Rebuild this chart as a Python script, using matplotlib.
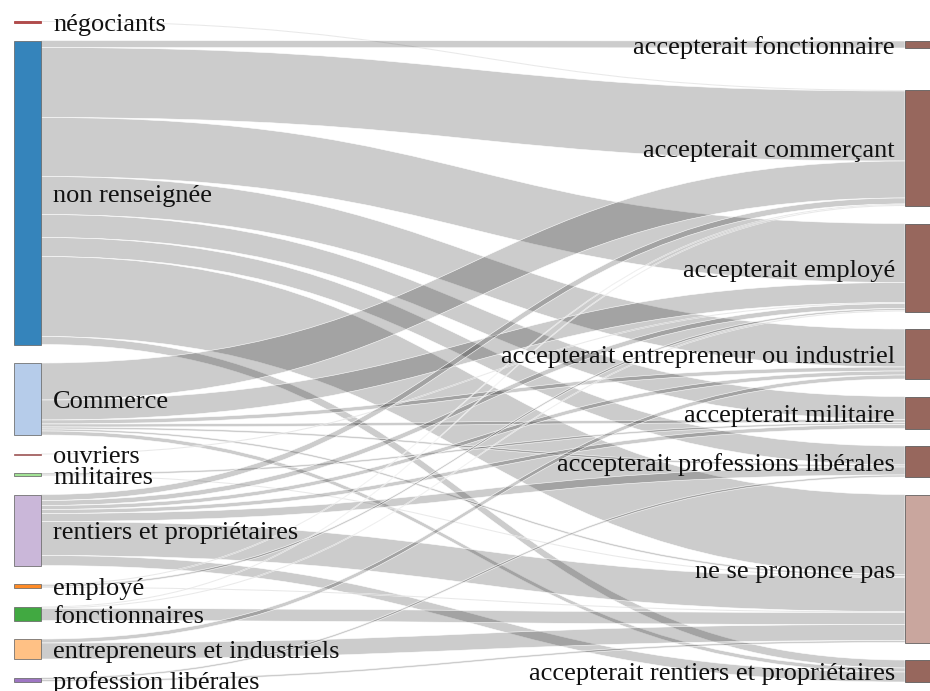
import matplotlib
matplotlib.use("Agg")
import matplotlib.pyplot as plt
from matplotlib.path import Path
from matplotlib.patches import PathPatch, Rectangle

SOURCES = ["négociants", "non renseignée", "Commerce", "ouvriers", "militaires",
           "rentiers et propriétaires", "employé", "fonctionnaires",
           "entrepreneurs et industriels", "profession libérales"]
TARGETS = ["accepterait fonctionnaire", "accepterait commerçant",
           "accepterait employé", "accepterait entrepreneur ou industriel",
           "accepterait militaire", "accepterait professions libérales",
           "ne se prononce pas", "accepterait rentiers et propriétaires"]

SRC_COLORS = ["#a83838", "#1f77b4", "#aec7e8", "#a05a5a", "#98df8a",
              "#c5b0d5", "#ff7f0e", "#2ca02c", "#ffbb78", "#9467bd"]
TGT_COLORS = ["#8c564b", "#8c564b", "#8c564b", "#8c564b",
              "#8c564b", "#8c564b", "#c49c94", "#8c564b"]

# flows: one row per source, one column per target
FLOWS = [
    [0, 1, 0, 0, 0, 0, 0, 0],
    [7, 70, 59, 38, 23, 19, 80, 8],
    [0, 37, 20, 4, 3, 2, 2, 4],
    [0, 0, 1, 0, 0, 0, 0, 0],
    [0, 0, 0, 0, 2, 0, 1, 0],
    [0, 6, 5, 4, 4, 8, 34, 10],
    [0, 1, 2, 0, 0, 0, 1, 0],
    [0, 1, 1, 0, 0, 0, 12, 0],
    [0, 0, 0, 4, 0, 0, 16, 0],
    [0, 0, 0, 0, 0, 2, 2, 0],
]

W, H = 930, 691
XL0, XL1 = 14, 41        # left node column
XR0, XR1 = 905, 932      # right node column
GAP_L, GAP_R = 18.5, 17.5
FS = 19

src_tot = [sum(r) for r in FLOWS]
tgt_tot = [sum(r[j] for r in FLOWS) for j in range(len(TARGETS))]

# stack left nodes from the top
src_top = []
y = 21
for v in src_tot:
    src_top.append(y)
    y += v + GAP_L

# stack right nodes from the bottom, first node pushed to the top
tgt_top = [0] * len(TARGETS)
y = 682
for j in range(len(TARGETS) - 1, 0, -1):
    y -= tgt_tot[j]
    tgt_top[j] = y
    y -= GAP_R
tgt_top[0] = 41

fig = plt.figure(figsize=(W / 100, H / 100), dpi=100)
ax = fig.add_axes([0, 0, 1, 1])
ax.set_xlim(0, W)
ax.set_ylim(H, 0)
ax.axis("off")

# links: ordered by target at the source, by source at the target
s_off = list(src_top)
t_off = list(tgt_top)
link_pos = {}
for i in range(len(SOURCES)):
    for j in range(len(TARGETS)):
        v = FLOWS[i][j]
        if v:
            link_pos[(i, j)] = [s_off[i], None]
            s_off[i] += v
for j in range(len(TARGETS)):
    for i in range(len(SOURCES)):
        v = FLOWS[i][j]
        if v:
            link_pos[(i, j)][1] = t_off[j]
            t_off[j] += v

xm = (XL1 + XR0) / 2
for (i, j), (sy, ty) in link_pos.items():
    v = FLOWS[i][j]
    verts = [(XL1, sy), (xm, sy), (xm, ty), (XR0, ty),
             (XR0, ty + v), (xm, ty + v), (xm, sy + v), (XL1, sy + v), (XL1, sy)]
    codes = [Path.MOVETO, Path.CURVE4, Path.CURVE4, Path.CURVE4,
             Path.LINETO, Path.CURVE4, Path.CURVE4, Path.CURVE4, Path.CLOSEPOLY]
    ax.add_patch(PathPatch(Path(verts, codes), facecolor=(0, 0, 0, 0.2),
                           edgecolor="white", linewidth=0.4, zorder=1))

# nodes + labels
dy = 0.35 * FS * 100 / 72
for i, name in enumerate(SOURCES):
    thin = src_tot[i] < 2
    ax.add_patch(Rectangle((XL0, src_top[i]), XL1 - XL0, max(src_tot[i], 1.5),
                           facecolor=SRC_COLORS[i], alpha=0.9,
                           edgecolor=SRC_COLORS[i] if thin else "#666666",
                           linewidth=0.6, zorder=3))
    yc = src_top[i] + src_tot[i] / 2
    ax.text(XL1 + 12, yc + dy, name, fontsize=FS,
            family="Liberation Serif", ha="left", va="baseline",
            color="#111111", zorder=4)

for j, name in enumerate(TARGETS):
    ax.add_patch(Rectangle((XR0, tgt_top[j]), XR1 - XR0, tgt_tot[j],
                           facecolor=TGT_COLORS[j], alpha=0.9,
                           edgecolor="#555555", linewidth=0.6, zorder=3))
    yc = tgt_top[j] + tgt_tot[j] / 2
    ax.text(XR0 - 10, yc + dy, name, fontsize=FS,
            family="Liberation Serif", ha="right", va="baseline",
            color="#111111", zorder=4)

fig.savefig("out.png", dpi=100)
